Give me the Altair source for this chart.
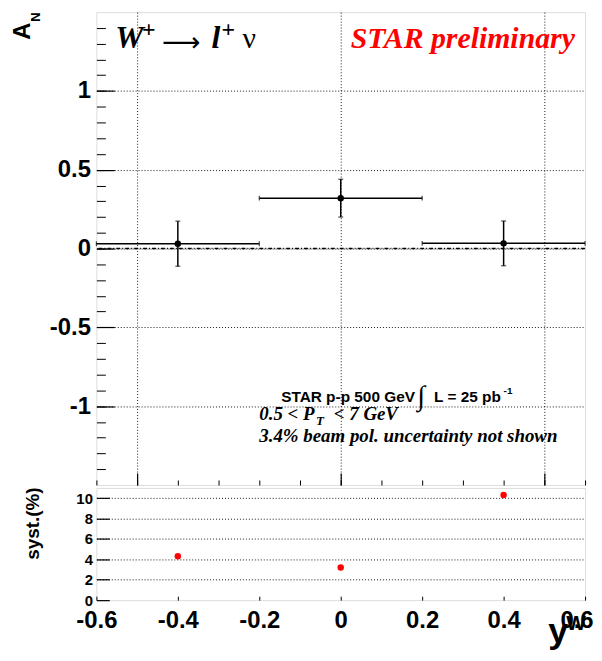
import altair as alt
import pandas as pd

# ---------------- data ----------------
bin_center = [-0.4, 0.0, 0.4]
bin_low = [-0.6, -0.2, 0.2]
bin_high = [-0.2, 0.2, 0.6]
a_n = [0.031, 0.32, 0.033]
a_n_err = [0.143, 0.12, 0.142]
syst_pct = [4.3, 3.2, 10.3]

y_major_top = [-1, -0.5, 0, 0.5, 1]
y_minor_top = [-1.4, -1.3, -1.2, -1.1, -1.0, -0.9, -0.8, -0.7, -0.6, -0.5, -0.4, -0.3, -0.2, -0.1, 0.0,
               0.1, 0.2, 0.3, 0.4, 0.5, 0.6, 0.7, 0.8, 0.9, 1.0, 1.1, 1.2, 1.3, 1.4]
x_major_top = [-0.5, 0, 0.5]
x_minor_top = [-0.6, -0.5, -0.4, -0.3, -0.2, -0.1, 0, 0.1, 0.2, 0.3, 0.4, 0.5, 0.6]
x_labels_bottom = [-0.6, -0.4, -0.2, 0, 0.2, 0.4]
x_label_last = [0.6]
y_labels_bottom = [0, 2, 4, 6, 8, 10]
y_grid_bottom = [2, 4, 6, 8, 10]

df = pd.DataFrame({
    "x": bin_center,
    "xlo": bin_low,
    "xhi": bin_high,
    "a": a_n,
    "alo": [v - e for v, e in zip(a_n, a_n_err)],
    "ahi": [v + e for v, e in zip(a_n, a_n_err)],
    "syst": syst_pct,
})

W = 492
H_TOP = 476
H_BOT = 113

xs = lambda: alt.Scale(domain=[-0.6, 0.6], nice=False, zero=False)
ys_top = lambda: alt.Scale(domain=[-1.5, 1.5], nice=False, zero=False)
ys_bot = lambda: alt.Scale(domain=[0, 11], nice=False, zero=False)

SANS = "Liberation Sans"
SERIF = "Liberation Serif"
GRID = dict(grid=True, ticks=False, labels=False, domain=False, title=None,
            gridDash=[1, 2], gridColor="black", gridWidth=1, gridOpacity=0.9)


def txt(text, x, y, size, font=SANS, weight="bold", style="normal",
        color="black", angle=0, align="left", baseline="alphabetic"):
    return alt.Chart(pd.DataFrame({"t": [text]})).mark_text(
        font=font, fontSize=size, fontWeight=weight, fontStyle=style,
        color=color, angle=angle, align=align, baseline=baseline
    ).encode(text="t:N", x=alt.value(x), y=alt.value(y))


base = alt.Chart(df)

# ---------- top panel ----------
top_grid = base.mark_point(opacity=0).encode(
    x=alt.X("x:Q", scale=xs(), axis=alt.Axis(values=x_major_top, orient="bottom", **GRID)),
    y=alt.Y("a:Q", scale=ys_top(), axis=alt.Axis(values=y_major_top, orient="left", **GRID)),
)

top_major = base.mark_point(opacity=0).encode(
    x=alt.X("x:Q", scale=xs(), axis=alt.Axis(
        values=x_major_top, orient="bottom", grid=False, labels=False, domain=False, title=None,
        tickSize=12, offset=-12, tickColor="black", tickWidth=1.2)),
    y=alt.Y("a:Q", scale=ys_top(), axis=alt.Axis(
        values=y_major_top, orient="left", grid=False, domain=False, title=None,
        tickSize=18, offset=-18, tickColor="black", tickWidth=1.2,
        labelPadding=6, labelFont=SANS, labelFontWeight="bold", labelFontSize=24,
        labelColor="black", labelExpr="toString(datum.value)", labelOverlap=False)),
)

top_minor = base.mark_point(opacity=0).encode(
    x=alt.X("x:Q", scale=xs(), axis=alt.Axis(
        values=x_minor_top, orient="bottom", grid=False, labels=False, domain=False, title=None,
        tickSize=5, offset=-5, tickColor="black", tickWidth=1)),
    y=alt.Y("a:Q", scale=ys_top(), axis=alt.Axis(
        values=y_minor_top, orient="left", grid=False, labels=False, domain=False, title=None,
        tickSize=9, offset=-9, tickColor="black", tickWidth=1)),
)

zero_line = alt.Chart(pd.DataFrame({"z": [0]})).mark_rule(
    color="black", strokeWidth=1.5, strokeDash=[4, 2, 1, 2]
).encode(y=alt.Y("z:Q", scale=ys_top(), axis=None))

x_err = base.mark_errorbar(
    ticks={"size": 5, "thickness": 1.2, "color": "black"},
    rule={"strokeWidth": 1.5, "color": "black"},
).encode(
    x=alt.X("xlo:Q", scale=xs(), axis=None, title=None),
    x2="xhi:Q",
    y=alt.Y("a:Q", scale=ys_top(), axis=None, title=None),
)

y_err = base.mark_errorbar(
    ticks={"size": 5, "thickness": 1.2, "color": "black"},
    rule={"strokeWidth": 1.5, "color": "black"},
).encode(
    y=alt.Y("alo:Q", scale=ys_top(), axis=None, title=None),
    y2="ahi:Q",
    x=alt.X("x:Q", scale=xs(), axis=None, title=None),
)

pts = base.mark_circle(size=42, color="black", opacity=1).encode(
    x=alt.X("x:Q", scale=xs(), axis=None),
    y=alt.Y("a:Q", scale=ys_top(), axis=None),
)

top_texts = [
    # axis title A_N
    txt("A", -74, 19, 24, angle=270, align="center", baseline="middle"),
    txt("N", -61, 5, 13, angle=270, align="center", baseline="middle"),
    # W+ -> l+ nu
    txt("W", 19, 36, 32, font=SERIF, style="italic"),
    txt("+", 46, 25, 24, font=SERIF),
    txt("\u27f6", 66, 39, 27, font="DejaVu Sans", weight="normal"),
    txt("l", 116, 36, 32, font=SERIF, style="italic"),
    txt("+", 126, 25, 24, font=SERIF),
    txt("\u03bd", 147, 36, 30, font=SERIF, weight="normal"),
    # STAR preliminary
    txt("STAR preliminary", 256, 36, 30, font=SERIF, style="italic", color="#ff0000"),
    # info block
    txt("STAR p-p 500 GeV", 186, 392, 15.5),
    txt("\u222b", 323, 396, 28, font=SERIF, weight="normal"),
    txt("L = 25 pb", 340, 392, 15.5),
    txt("-1", 410, 384, 10),
    txt("0.5 < P", 164, 411, 19, font=SERIF, style="italic"),
    txt("T", 221, 416, 13, font=SERIF, style="italic"),
    txt("< 7 GeV", 239, 411, 19, font=SERIF, style="italic"),
    txt("3.4% beam pol. uncertainty not shown", 164, 433, 19, font=SERIF, style="italic"),
]

top = alt.layer(
    top_grid, zero_line, top_major, top_minor, x_err, y_err, pts, *top_texts
).resolve_scale(x="independent", y="independent").resolve_axis(
    x="independent", y="independent"
).properties(width=W, height=H_TOP)

# ---------- bottom panel ----------
bot_grid = base.mark_point(opacity=0).encode(
    x=alt.X("x:Q", scale=xs(), axis=None),
    y=alt.Y("syst:Q", scale=ys_bot(), axis=alt.Axis(values=y_grid_bottom, orient="left", **GRID)),
)

XLAB = dict(orient="bottom", grid=False, domain=False, title=None,
            tickSize=4, offset=-4, tickColor="black", tickWidth=1,
            labelPadding=9, labelFont=SANS, labelFontWeight="bold", labelFontSize=24,
            labelColor="black", labelExpr="toString(datum.value)", labelOverlap=False)

bot_axes = base.mark_point(opacity=0).encode(
    x=alt.X("x:Q", scale=xs(), axis=alt.Axis(values=x_labels_bottom, labelFlush=False, **XLAB)),
    y=alt.Y("syst:Q", scale=ys_bot(), axis=alt.Axis(
        values=y_labels_bottom, orient="left", grid=False, domain=False, title=None,
        tickSize=13, offset=-13, tickColor="black", tickWidth=1.2,
        labelPadding=4, labelFont=SANS, labelFontWeight="bold", labelFontSize=15,
        labelColor="black", labelExpr="toString(datum.value)", labelOverlap=False,
        labelFlush=False)),
)

bot_axis_last = base.mark_point(opacity=0).encode(
    x=alt.X("x:Q", scale=xs(), axis=alt.Axis(values=x_label_last, labelFlush=True,
                                              labelFlushOffset=8, **XLAB)),
    y=alt.Y("syst:Q", scale=ys_bot(), axis=None),
)

bot_pts = base.mark_circle(size=42, color="#ff0000", opacity=1).encode(
    x=alt.X("x:Q", scale=xs(), axis=None),
    y=alt.Y("syst:Q", scale=ys_bot(), axis=None),
)

bot_texts = [
    txt("syst.(%)", -64, 36, 19, angle=270, align="center", baseline="middle"),
    txt("y", 455, 156, 36),
    txt("W", 473, 143, 21),
]

bottom = alt.layer(
    bot_grid, bot_axes, bot_axis_last, bot_pts, *bot_texts
).resolve_scale(x="independent", y="independent").resolve_axis(
    x="independent", y="independent"
).properties(width=W, height=H_BOT)

chart = alt.vconcat(top, bottom, spacing=0).properties(
    padding={"left": 2, "top": 1, "right": 0, "bottom": 0},
).configure_view(stroke="black", strokeWidth=1.5).configure(background="white")

chart.save("out.html", embed_options={"renderer": "svg", "actions": False})
